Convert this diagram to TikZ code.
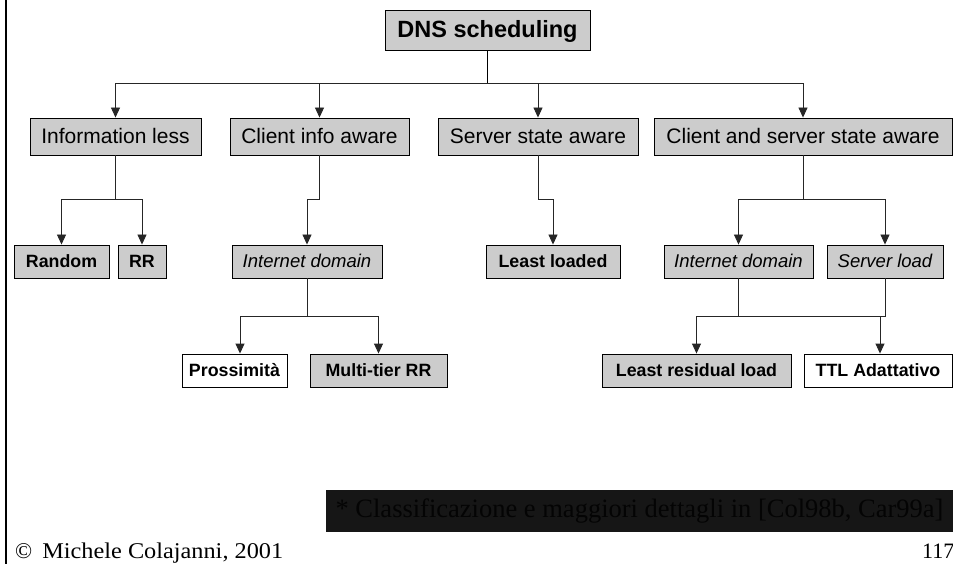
\documentclass[tikz,border=0pt]{standalone}
\usepackage{fontspec}
\setmainfont{Liberation Serif}
\newfontfamily\arialf{Liberation Sans}
\usetikzlibrary{arrows.meta}
\definecolor{boxgray}{RGB}{204,204,204}
\definecolor{footbg}{RGB}{22,22,22}
\definecolor{foottx}{RGB}{4,4,4}
\tikzset{
  boxbase/.style={draw=black, line width=0.9pt, inner sep=0pt, align=center},
  topbox/.style={boxbase, fill=boxgray, minimum height=40pt, text height=16.9pt, text depth=1pt, font=\arialf\bfseries\fontsize{23.5}{26}\selectfont},
  catbox/.style={boxbase, fill=boxgray, minimum height=37pt, text height=15.1pt, text depth=0.8pt, font=\arialf\fontsize{21}{24}\selectfont},
  leafbox/.style={boxbase, fill=boxgray, minimum height=33pt, text height=12.8pt, text depth=0.7pt, font=\arialf\bfseries\fontsize{17.8}{20}\selectfont},
  whitebox/.style={leafbox, fill=white},
  subbox/.style={boxbase, fill=boxgray, minimum height=33pt, text height=13.3pt, text depth=0.7pt, font=\arialf\itshape\fontsize{18.5}{21}\selectfont},
  conn/.style={line width=0.9pt, draw=black!85},
  arr/.style={conn, -{Triangle[length=10pt,width=9pt]}},
}
\begin{document}
\begin{tikzpicture}[x=1pt,y=-1pt]
\useasboundingbox (0,0) rectangle (953,564);
\fill[white] (0,0) rectangle (953,564);
\draw[line width=2.6pt] (6,0) -- (6,564);

% nodes
\node[topbox, minimum width=205pt] (dns) at (487.5,30) {DNS scheduling};
\node[catbox, minimum width=171pt] (il)   at (115.5,136.5) {Information less};
\node[catbox, minimum width=179pt] (cia)  at (319.5,136.5) {Client info aware};
\node[catbox, minimum width=200pt] (ssa)  at (538,136.5) {Server state aware};
\node[catbox, minimum width=298pt] (cssa) at (803,136.5) {Client and server state aware};

\node[leafbox, minimum width=95pt]  (rand) at (61.5,261.5) {Random};
\node[leafbox, minimum width=48pt]  (rr)   at (142,261.5) {RR};
\node[subbox, minimum width=150pt]  (id1)  at (307,261.5) {Internet domain};
\node[leafbox, minimum width=134pt] (ll)   at (553,261.5) {Least loaded};
\node[subbox, minimum width=149pt]  (id2)  at (738.5,261.5) {Internet domain};
\node[subbox, minimum width=116pt]  (sl)   at (885,261.5) {Server load};

\node[whitebox, minimum width=105pt] (pros) at (234.5,370.5) {Prossimità};
\node[leafbox, minimum width=137pt]  (mtrr) at (378.5,370.5) {Multi-tier RR};
\node[leafbox, minimum width=189pt]  (lrl)  at (696.5,370.5) {Least residual load};
\node[whitebox, minimum width=148pt] (ttl)  at (878,370.5) {TTL Adattativo};

% junctions
\coordinate (j0) at (487.5,83);
\coordinate (jil) at (115.5,199);
\coordinate (jcia) at (319.5,199);
\coordinate (jssa) at (538,199);
\coordinate (jcs) at (803,199);
\coordinate (jid1) at (307,316);
\coordinate (jid2) at (738.5,316);

% connectors
\draw[line width=1.5pt] (dns.south) -- (j0);
\draw[arr] (j0) -| (il.north);
\draw[arr] (j0) -| (cia.north);
\draw[arr] (j0) -| (ssa.north);
\draw[arr] (j0) -| (cssa.north);

\draw[conn] (il.south) -- (jil);
\draw[arr] (jil) -| (rand.north);
\draw[arr] (jil) -| (rr.north);

\draw[arr] (cia.south) -- (jcia) -| (id1.north);
\draw[arr] (ssa.south) -- (jssa) -| (ll.north);

\draw[conn] (cssa.south) -- (jcs);
\draw[arr] (jcs) -| (id2.north);
\draw[arr] (jcs) -| (sl.north);

\draw[conn] (id1.south) -- (jid1);
\draw[arr] (jid1) -| ([xshift=5.5pt]pros.north);
\draw[arr] (jid1) -| (mtrr.north);

\draw[conn] (id2.south) -- (jid2);
\draw[conn] (sl.south) |- (jid2);
\draw[arr] (jid2) -| (lrl.north);
\draw[arr] ([xshift=2pt]ttl.north |- jid2) -- ([xshift=2pt]ttl.north);

% footer
\node[fill=footbg, minimum width=627pt, minimum height=42pt, inner sep=0pt,
      text=foottx, font=\fontsize{26.5}{30}\selectfont] (note) at (639.5,511)
      {* Classificazione e maggiori dettagli in [Col98b, Car99a]};
\node[anchor=base west, inner sep=0pt, font=\fontsize{22.5}{25}\selectfont] (copy) at (15,558)
      {©\hspace{10pt}\scalebox{1.08}[1]{Michele Colajanni, 2001}};
\node[anchor=base west, inner sep=0pt, font=\fontsize{22}{25}\selectfont] (pg) at (922,558) {117};
\end{tikzpicture}
\end{document}
